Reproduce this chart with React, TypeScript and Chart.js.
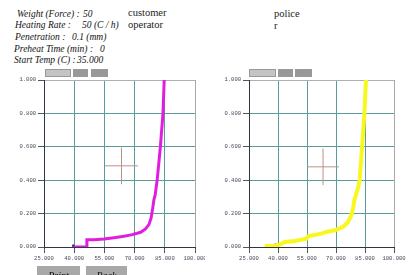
import React, { useEffect, useRef } from "react";
import { Chart, registerables } from "chart.js";

Chart.register(...registerables);

// ---- data ----
const xTicks = [25, 40, 55, 70, 85, 100];
const yTicks = [0, 0.2, 0.4, 0.6, 0.8, 1.0];

const leftX = [39.7, 46.3, 46.3, 49.9, 54.8, 59.8, 64.7, 68.8, 73.0, 75.4, 77.1, 78.2, 78.9, 79.6, 80.2, 81.2, 82.8, 84.1, 84.7];
const leftY = [0, 0, 0.044, 0.044, 0.048, 0.056, 0.064, 0.074, 0.088, 0.108, 0.134, 0.174, 0.224, 0.284, 0.31, 0.4, 0.6, 0.8, 1.0];

const rightX = [33.1, 38.3, 40.9, 43.4, 48.6, 54.7, 55.5, 62.4, 65.0, 69.3, 73.6, 76.2, 77.9, 78.8, 79.7, 81.3, 82.2, 83.5, 84.7, 85.5];
const rightY = [0.006, 0.006, 0.014, 0.03, 0.036, 0.05, 0.064, 0.08, 0.09, 0.1, 0.12, 0.15, 0.19, 0.23, 0.29, 0.35, 0.4, 0.6, 0.8, 1.0];

const leftMarker = [39.6, 0.008];
const rightMarker = [38.6, 0.012];

// crosshair: center x, center y, half width (x units), half height (y units)
const crossLeft = [63.5, 0.486, 8.2, 0.11];
const crossRight = [63.3, 0.48, 8.2, 0.11];

const infoLabels = ["Weight (Force) :", "Heating Rate :", "Penetration :", "Preheat Time (min) :", "Start Temp (C) :"];
const infoValues = ["50", "50 (C / h)", "0.1 (mm)", "0", "35.000"];

type ChartCfg = {
  xs: number[];
  ys: number[];
  color: string;
  width: number;
  marker: number[];
  markerColor: string;
  cross: number[];
  padRight: number;
};

function PlotChart({ cfg, w, h }: { cfg: ChartCfg; w: number; h: number }) {
  const ref = useRef<HTMLCanvasElement | null>(null);
  useEffect(() => {
    if (!ref.current) return;
    const pts = cfg.xs.map((x, i) => ({ x, y: cfg.ys[i] }));
    const [cx, cy, dx, dy] = cfg.cross;
    const crossColor = "#c09088";
    const chart = new Chart(ref.current, {
      type: "line",
      data: {
        datasets: [
          {
            data: [{ x: cx - dx, y: cy }, { x: cx + dx, y: cy }],
            borderColor: crossColor,
            borderWidth: 1,
            pointRadius: 0,
          },
          {
            data: [{ x: cx, y: cy - dy }, { x: cx, y: cy + dy }],
            borderColor: crossColor,
            borderWidth: 1,
            pointRadius: 0,
          },
          {
            data: pts,
            borderColor: cfg.color,
            borderWidth: cfg.width,
            pointRadius: 0,
            tension: 0,
          },
          {
            data: [{ x: cfg.marker[0], y: cfg.marker[1] }],
            showLine: false,
            pointRadius: 1.5,
            pointBackgroundColor: cfg.markerColor,
            pointBorderWidth: 0,
          },
        ],
      },
      options: {
        animation: false,
        responsive: false,
        events: [],
        layout: { padding: { left: 0, top: 10, right: cfg.padRight, bottom: 0 } },
        plugins: { legend: { display: false }, tooltip: { enabled: false } },
        scales: {
          x: {
            type: "linear",
            min: xTicks[0],
            max: xTicks[xTicks.length - 1],
            afterFit: (s: any) => {
              s.height = 23;
              s.paddingLeft = 0;
              s.paddingRight = 0;
            },
            afterBuildTicks: (s: any) => {
              s.ticks = xTicks.map((v) => ({ value: v }));
            },
            ticks: {
              autoSkip: false,
              maxRotation: 0,
              padding: 2,
              color: "#444a5a",
              font: { family: "Liberation Mono", size: 5.5 },
              callback: (v: any) => Number(v).toFixed(3),
            },
            grid: {
              color: (c: any) => (c.tick && c.tick.value === 100 ? "#a8a8a8" : "#5a9c9c"),
              tickColor: "#555",
              tickLength: 6,
              lineWidth: 1,
            },
            border: { color: "#333344", width: 1 },
          },
          y: {
            type: "linear",
            min: yTicks[0],
            max: yTicks[yTicks.length - 1],
            afterFit: (s: any) => {
              s.width = 44;
              s.paddingTop = 0;
              s.paddingBottom = 0;
            },
            afterBuildTicks: (s: any) => {
              s.ticks = yTicks.map((v) => ({ value: v }));
            },
            ticks: {
              autoSkip: false,
              padding: 2,
              color: "#444a5a",
              font: { family: "Liberation Mono", size: 5.5 },
              callback: (v: any) => Number(v).toFixed(3),
            },
            grid: {
              color: (c: any) => (c.tick && c.tick.value === 1 ? "#b0b0b0" : "#5a9c9c"),
              tickColor: "#555",
              tickLength: 6,
              lineWidth: 1,
            },
            border: { color: "#333344", width: 1 },
          },
        },
      },
    } as any);
    return () => chart.destroy();
  }, [cfg]);
  return <canvas ref={ref} width={w} height={h} style={{ display: "block", width: w, height: h }} />;
}

const leftCfg: ChartCfg = {
  xs: leftX,
  ys: leftY,
  color: "#e01ee0",
  width: 3,
  marker: leftMarker,
  markerColor: "#3a2a90",
  cross: crossLeft,
  padRight: 10,
};
const rightCfg: ChartCfg = {
  xs: rightX,
  ys: rightY,
  color: "#f8f820",
  width: 4,
  marker: rightMarker,
  markerColor: "#111111",
  cross: crossRight,
  padRight: 15,
};

const abs = (l: number, t: number, extra: React.CSSProperties = {}): React.CSSProperties => ({
  position: "absolute",
  left: l,
  top: t,
  lineHeight: 1,
  whiteSpace: "nowrap",
  ...extra,
});

const infoFont: React.CSSProperties = {
  fontFamily: "'Liberation Serif', serif",
  fontStyle: "italic",
  fontSize: 9.5,
  color: "#111",
};
const plainFont: React.CSSProperties = {
  fontFamily: "'Liberation Serif', serif",
  fontSize: 10.5,
  color: "#222",
};

const infoValueX = [83, 82, 72, 100, 77];
const infoTops = [10, 21, 33, 45, 56];
const infoLabelX = [17, 15, 15, 14, 14];

function Btn({ l, t, w, h, bg }: { l: number; t: number; w: number; h: number; bg: string }) {
  return <div style={abs(l, t, { width: w, height: h, background: bg, border: "1px solid #999", boxSizing: "border-box" })} />;
}

export default function App() {
  return (
    <div style={{ position: "absolute", left: 0, top: 0, width: 409, height: 275, background: "#fff", overflow: "hidden" }}>
      {infoLabels.map((s, i) => (
        <div key={"l" + i} style={abs(infoLabelX[i], infoTops[i], infoFont)}>{s}</div>
      ))}
      {infoValues.map((s, i) => (
        <div key={"v" + i} style={abs(infoValueX[i], infoTops[i], infoFont)}>{s}</div>
      ))}
      <div style={abs(128, 8, plainFont)}>customer</div>
      <div style={abs(128, 20, plainFont)}>operator</div>
      <div style={abs(274, 9, plainFont)}>police</div>
      <div style={abs(274, 21, plainFont)}>r</div>

      <Btn l={45} t={69} w={26} h={8} bg="#c4c4c4" />
      <Btn l={73} t={69} w={15} h={8} bg="#989898" />
      <Btn l={91} t={69} w={17} h={8} bg="#989898" />
      <Btn l={249} t={69} w={27} h={8} bg="#c4c4c4" />
      <Btn l={278} t={69} w={15} h={8} bg="#989898" />
      <Btn l={295} t={69} w={17} h={8} bg="#989898" />

      <div style={abs(0, 70)}>
        <PlotChart cfg={leftCfg} w={205} h={200} />
      </div>
      <div style={abs(205, 70)}>
        <PlotChart cfg={rightCfg} w={204} h={200} />
      </div>

      <div style={abs(37, 266, { width: 43, height: 12, background: "#a8a8a8", textAlign: "center" })}>
        <span style={{ ...infoFont, fontSize: 10, lineHeight: "10px" }}>Print</span>
      </div>
      <div style={abs(86, 266, { width: 41, height: 12, background: "#a8a8a8", textAlign: "center" })}>
        <span style={{ ...infoFont, fontSize: 10, lineHeight: "10px" }}>Back</span>
      </div>
    </div>
  );
}
